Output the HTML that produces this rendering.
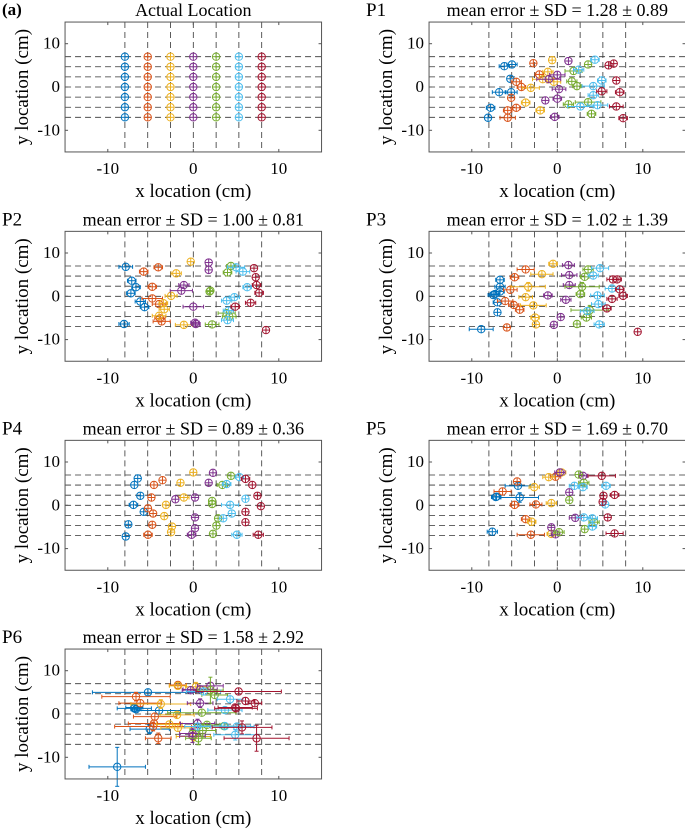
<!DOCTYPE html>
<html><head><meta charset="utf-8"><style>
body{margin:0;background:#fff}
svg{display:block}
svg text{font-family:"Liberation Serif","DejaVu Serif","Times New Roman",serif}
</style></head><body>
<svg id="fig" width="685" height="830">
<text x="2" y="15" font-size="17" font-weight="bold">(a)</text>
</svg>
<script>
const colors=["#0072BD","#D95319","#EDB120","#7E2F8E","#77AC30","#4DBEEE","#A2142F"];
const gridX=[-8,-5.33,-2.67,0,2.67,5.33,8];
const gridY=[-7,-4.67,-2.33,0,2.33,4.67,7];
const ticks=[-10,0,10];
const tickLabels=["-10","0","10"];
const titles=["Actual Location","mean error ± SD = 1.28 ± 0.89","mean error ± SD = 1.00 ± 0.81","mean error ± SD = 1.02 ± 1.39","mean error ± SD = 0.89 ± 0.36","mean error ± SD = 1.69 ± 0.70","mean error ± SD = 1.58 ± 2.92"];
const panelNames=["","P1","P2","P3","P4","P5","P6"];
const p0x=[[-8,-8,-8,-8,-8,-8,-8],[-5.33,-5.33,-5.33,-5.33,-5.33,-5.33,-5.33],[-2.67,-2.67,-2.67,-2.67,-2.67,-2.67,-2.67],[0,0,0,0,0,0,0],[2.67,2.67,2.67,2.67,2.67,2.67,2.67],[5.33,5.33,5.33,5.33,5.33,5.33,5.33],[8,8,8,8,8,8,8]];
const p0y=[[7,4.67,2.33,0,-2.33,-4.67,-7],[7,4.67,2.33,0,-2.33,-4.67,-7],[7,4.67,2.33,0,-2.33,-4.67,-7],[7,4.67,2.33,0,-2.33,-4.67,-7],[7,4.67,2.33,0,-2.33,-4.67,-7],[7,4.67,2.33,0,-2.33,-4.67,-7],[7,4.67,2.33,0,-2.33,-4.67,-7]];
const p0e=[[0,0,0,0,0,0,0],[0,0,0,0,0,0,0],[0,0,0,0,0,0,0],[0,0,0,0,0,0,0],[0,0,0,0,0,0,0],[0,0,0,0,0,0,0],[0,0,0,0,0,0,0]];
const p1x=[[-5.3,-6.2,-5.5,-6.8,-7.8,-8.1,-5.4],[-2.8,-2.1,-4.8,-4.2,-5.4,-4.8,-5.8,-5.8],[-0.6,-1.1,-1.7,-3.1,-3.7,-2,-0.4],[1.3,0,-1,0.2,-1.4,0,-0.3],[3.6,1.9,1.7,2.3,1.3,3.6,4],[4.4,2.5,4.2,5.2,2.7,4.7,4.2],[6,6.6,6.9,7.3,6.9,7.7,5.2]];
const p1y=[[5.2,4.8,1.9,-1.2,-4.8,-7.1,-1.2],[5.5,2.9,1.2,0,-2.5,-4.8,-7.1,-5.4],[6.2,3.5,1.8,-0.2,-3.6,-5.4,1.2],[6,2.8,1.8,-0.5,-3.1,-2.7,-6.9],[5.2,3.7,1.3,0.2,-4,-3.5,-6.2],[6.3,4,0.2,1.5,-4.5,-4.2,-1.9],[5,5.4,1.5,-1.2,-4.5,-7.2,-1]];
const p1e=[[0.6,0.6,0.4,0.8,0.5,0.4,0.7],[0.4,0.5,0.6,0.5,0.4,0.5,0.9,0.5],[0.4,0.6,1.2,1,0.5,0.5,0.8],[0.4,0.9,1.4,0.8,0.4,0.5,0.5],[0.4,1,0.6,0.5,0.6,1.5,0.5],[0.5,0.6,1.3,0.5,1.5,1.2,0.6],[0.4,0.4,0.4,0.5,0.8,0.5,0.6]];
const p2x=[[-7.9,-7.2,-6.7,-7.3,-6.2,-5.7,-8.1],[-5.8,-4.1,-4.8,-4.8,-4,-3.9,-3.7],[-0.3,-2,-2.6,-3.4,-1.1,-4,-3.5],[1.8,1.8,-1.1,-1.4,0,0.3,0.2],[4.4,4,2,1.9,3.9,4.2,2.2],[5,5.8,6.3,4.8,3.9,4.1,4],[7.1,7.3,7.4,7.7,6.7,4.9,8.5]];
const p2y=[[6.8,3.6,2.1,0.7,-1.2,-2.5,-6.4],[5.7,6.7,2.2,-0.5,-1.8,-5.1,-5.8],[8,5.3,0.1,-3,-6.6,-4.5,-1.6],[7.8,6.1,2.6,1.3,-2.4,-6.4,-6.1],[7,5.5,1.3,1.1,-3.9,-4.7,-6.5],[6.7,5.7,2.1,-0.2,-1,-3.3,-5.5],[6.5,4.4,2.6,0.8,-1.5,-2.4,-7.8]];
const p2e=[[0.8,0.5,0.5,0.5,0.6,0.5,0.6],[0.5,0.5,0.5,1.2,0.8,0.6,1],[0.4,0.6,0.7,0.6,1,0.8,0.5],[0.4,0.4,0.6,1.3,1.2,0.5,0.5],[0.5,0.5,0.4,0.4,1,0.8,0.8],[1,0.8,0.5,0.6,0.6,0.6,0.7],[0.4,0.4,0.5,0.5,0.6,0.5,0.4]];
const p3x=[[-6.7,-6.7,-7.3,-7,-7,-8.9,-6.7,-7.5],[-3.7,-5,-5.5,-6.1,-5.1,-4.4,-5.9],[-0.5,-1.8,-3.4,-3.7,-2.8,-2.6,-2.5],[1.3,1.4,1.4,-1.1,1,0.4,-0.4],[3.6,3.2,2.9,2.7,3.8,3.4,2.3],[5,4.2,6.4,4.7,4.8,3.5,4.9],[6.5,7,7.3,7.7,6.4,5.8,9.4]];
const p3y=[[3.8,2.2,0.5,-1.4,-3.7,-7.6,1.1,0.3],[6.2,4.4,1.5,-1.1,-2,-3.1,-7.2],[7.5,5.1,2.2,-0.2,-2.1,-4.9,-6.5],[7.2,4.9,2.6,0.2,-0.8,-4.8,-6.6],[6.2,4.5,2.2,0.5,-3.2,-4.9,-6.4],[6.5,4.8,1.8,0.2,-1.8,-3.4,-6.5],[3.9,3.9,1.6,0.1,-0.6,-2.8,-8.2]];
const p3e=[[0.5,0.6,0.5,0.5,0.4,1.4,0.5,0.6],[1,0.5,0.8,0.9,0.6,0.5,0.4],[0.5,1.3,2,0.8,1.5,0.5,0.4],[0.7,0.9,0.7,0.5,0.6,0.4,0.4],[0.6,0.5,2,0.5,2.2,0.6,0.4],[1,0.6,0.8,0.8,0.8,0.8,0.6],[0.7,0.5,0.5,0.5,0.6,0.5,0.4]];
const p4x=[[-6.5,-6.9,-6.2,-7,-5.8,-7.6,-7.9],[-3.6,-4.6,-4.9,-5.3,-4.7,-4.8,-5.3],[0,-1.5,-1.1,-3.2,-3.4,-2.5,-2.6],[2.3,1.8,0.2,-2.1,0.2,0.2,-0.2],[4.4,3.4,2.2,2.2,2.9,2.7,2.3],[5.4,3.9,6.1,4.3,4.5,3.5,5.1],[6.1,6.9,7.5,7.9,6.1,6.1,7.6]];
const p4y=[[6.2,4.7,2.2,0.1,-1.5,-4.4,-7.2],[5.8,4.7,1.8,-0.7,-1.9,-4.5,-6.8],[7.6,5.2,1.8,0.1,-2.5,-4.9,-6.2],[7.5,5.2,1.8,1.4,-2.8,-5.3,-6.8],[6.8,4.7,1,0.3,-3,-4.7,-6.6],[6.5,4.9,1.5,0.1,-1.9,-3,-6.8],[6.1,4.7,2.2,-0.2,-1.5,-3.9,-6.8]];
const p4e=[[0.4,0.4,0.4,0.5,0.4,0.4,0.4],[0.4,0.4,0.4,0.4,0.4,0.4,0.5],[0.4,0.4,0.6,0.4,0.4,0.4,0.4],[0.4,0.4,0.4,0.4,0.4,0.4,0.5],[0.4,0.6,0.4,0.4,0.4,0.4,0.4],[0.5,0.5,0.4,1,0.4,0.4,0.6],[0.5,0.4,0.4,0.4,0.4,0.4,0.6]];
const p5x=[[-7.2,-4.4,-4.6,-7.6,-7.1],[-4.7,-6.4,-5,-2.5,-3.7,-3.1,-0.2],[-1,-2.7,-0.7,-3,-0.7,0.5],[0.3,3,1.4,2.1,-0.7,-0.2],[2.5,3.1,1.4,4.3,3.2,0.2],[2,3,5.7,5.6,3.1,4.1,4.1],[5.2,5.4,6.7,5.3,5.9,6.7]];
const p5y=[[1.9,1.8,4.5,-6.1,2],[5.5,3.2,0.1,0.2,-3.2,-6.8,6.6],[6.5,4.2,0.5,-3.8,-6.6,7.6],[7.6,6.8,3,-2.9,-5.1,-6.7],[7.1,5.2,1.2,-3.9,-5.5,-6.2],[4.5,4.2,4.5,0.2,-2.8,-4.9,-3],[6.8,2.2,2.4,0.8,-2.8,-6.5]];
const p5e=[[0.5,2.2,1.5,0.6,0.5],[0.4,1,0.5,0.7,0.5,1.6,0.6],[0.7,0.6,0.6,0.5,0.5,0.5],[0.6,0.5,0.4,0.7,0.4,0.5],[0.4,0.6,0.4,0.6,0.4,0.6],[0.6,0.5,0.5,0.4,0.8,0.5,0.6],[1.6,0.4,0.5,0.4,0.4,1]];
const p6x=[[-5.3,-6.9,-6.7,-8.9,-4,-5.1,-6.9],[-1.8,-6.7,-6.2,-4.5,-4.7,-4.1,-4.6],[-1.8,-3.8,-1.9,-2.8,-1.8,0.3,0],[2,0.8,-0.1,0.5,0.8,-0.3,-0.1],[2,1,1.1,3.6,0.6,1.6,2.5],[4.3,3.7,4.9,3.7,0.5,1.2,5.1],[5.3,6.1,7.2,5,5.7,7.4,4.9]];
const p6y=[[5,1.5,1.1,-12.2,0.8,-3.5,1.3],[6.7,4,2.5,-0.6,-2.9,-5.6,-2.2],[6.5,2.3,-0.2,-2.4,-3.2,6.3,-5.2],[6.5,2.5,-5.1,-2.2,5.7,5.5,-4.5],[5.5,0.3,-3.8,-2.8,-5.6,-2.5,4.4],[3.4,0.9,-4.8,-2.8,-2.9,5.2,-2.9],[5.2,3,2.5,1.3,-3.1,-5.6,1.5]];
const p6e=[[6.5,1,0.6,3.3,2.5,2.3,2],[1,4,2.5,2.5,4.5,1.5,3],[1,3.5,2,1.5,2,1.2,2],[1.5,1.5,1.5,2,2,1,1.5],[1.5,4,1.5,2,1.5,1.5,1.5],[1.5,2,2.5,3,1.5,2,2],[5,1,0.8,2.5,3.5,3.8,2]];
const p6ye=[[0.8,0.5,0.5,4.5,0.8,1,0.5],[0.6,1,0.8,0.8,1,1.2,0.8],[0.5,1,0.8,0.8,0.8,1,1],[0.6,1,1.5,1,0.6,0.8,1.2],[3,0.8,1.5,0.8,1.5,0.8,0.8],[0.8,0.8,1.2,0.8,0.8,0.8,0.8],[0.6,0.5,0.5,0.5,1.5,3,0.5]];
const XS=[p0x,p1x,p2x,p3x,p4x,p5x,p6x], YS=[p0y,p1y,p2y,p3y,p4y,p5y,p6y], ES=[p0e,p1e,p2e,p3e,p4e,p5e,p6e];

const NS="http://www.w3.org/2000/svg";
const svg=document.getElementById('fig');
function mk(tag,attrs,parent){const e=document.createElementNS(NS,tag);for(const k in attrs)e.setAttribute(k,attrs[k]);(parent||svg).appendChild(e);return e;}
const colX=[193.3,557.3], rowY=[87,296.3,505.3,714], SX=8.55, SY=4.33;
for(let p=0;p<7;p++){
  const cx=colX[p%2], cy=rowY[Math.floor(p/2)];
  const xs=v=>cx+v*SX, ys=v=>cy-v*SY;
  const g=mk('g',{});
  
  
  const L=xs(-15),R=xs(15),T=ys(15),B=ys(-15);
  const grid=mk('g',{stroke:'#333','stroke-width':0.8,'stroke-dasharray':'6,4'},g);
  
  
  gridX.forEach(v=>mk('line',{x1:xs(v),x2:xs(v),y1:T,y2:B},grid));
  gridY.forEach(v=>mk('line',{x1:L,x2:R,y1:ys(v),y2:ys(v)},grid));
  const X=XS[p],Y=YS[p],E=ES[p];
  for(let c=0;c<7;c++){
    const sg=mk('g',{stroke:colors[c],fill:'none','stroke-width':1},g);
    
    
    for(let i=0;i<X[c].length;i++){
      const px=xs(X[c][i]),py=ys(Y[c][i]);
      const yerr=p===6?p6ye[c][i]:E[c][i]*0.5;
      const ex=Math.max(E[c][i]*SX,3.7), ey=Math.max(yerr*SY,3.7);
      const m=mk('g',{},sg);
      
      
      mk('line',{x1:px-ex,x2:px+ex,y1:py,y2:py},m);
      mk('line',{x1:px,x2:px,y1:py-ey,y2:py+ey},m);
      if(ex>4){mk('line',{x1:px-ex,x2:px-ex,y1:py-2,y2:py+2},m);mk('line',{x1:px+ex,x2:px+ex,y1:py-2,y2:py+2},m);}
      if(ey>4){mk('line',{x1:px-2,x2:px+2,y1:py-ey,y2:py-ey},m);mk('line',{x1:px-2,x2:px+2,y1:py+ey,y2:py+ey},m);}
      mk('circle',{cx:px,cy:py,r:3.7},m);
    }
  }
  const box=mk('rect',{x:L,y:T,width:R-L,height:B-T,fill:'none',stroke:'#555','stroke-width':1},g);
  
  
  ticks.forEach((v,i)=>{
    mk('line',{x1:xs(v),x2:xs(v),y1:B,y2:B-3,stroke:'#555'},g);
    mk('line',{x1:xs(v),x2:xs(v),y1:T,y2:T+3,stroke:'#555'},g);
    mk('line',{x1:L,x2:L+3,y1:ys(v),y2:ys(v),stroke:'#555'},g);
    mk('line',{x1:R,x2:R-3,y1:ys(v),y2:ys(v),stroke:'#555'},g);
    const tx=mk('text',{x:xs(v),y:B+22,'font-size':17,'text-anchor':'middle'},g);
    tx.textContent=tickLabels[i];
    
    
    const ty=mk('text',{x:L-5,y:ys(v)+5,'font-size':17,'text-anchor':'end'},g);
    ty.textContent=tickLabels[i];
    
    
  });
  const xl=mk('text',{x:cx,y:B+45,'font-size':19,'text-anchor':'middle'},g);
  xl.textContent='x location (cm)';
  
  
  const ylx=L-37;
  const yl=mk('text',{x:ylx,y:cy,'font-size':19,'text-anchor':'middle',transform:`rotate(-90 ${ylx} ${cy})`},g);
  yl.textContent='y location (cm)';
  
  
  const tt=mk('text',{x:cx,y:T-6,'font-size':18,'text-anchor':'middle'},g);
  tt.textContent=titles[p];
  
  
  if(panelNames[p]){
    const pn=mk('text',{x:L-63,y:T-6,'font-size':19},g);
    pn.textContent=panelNames[p];
    
    
  }
}
</script>
</body></html>
